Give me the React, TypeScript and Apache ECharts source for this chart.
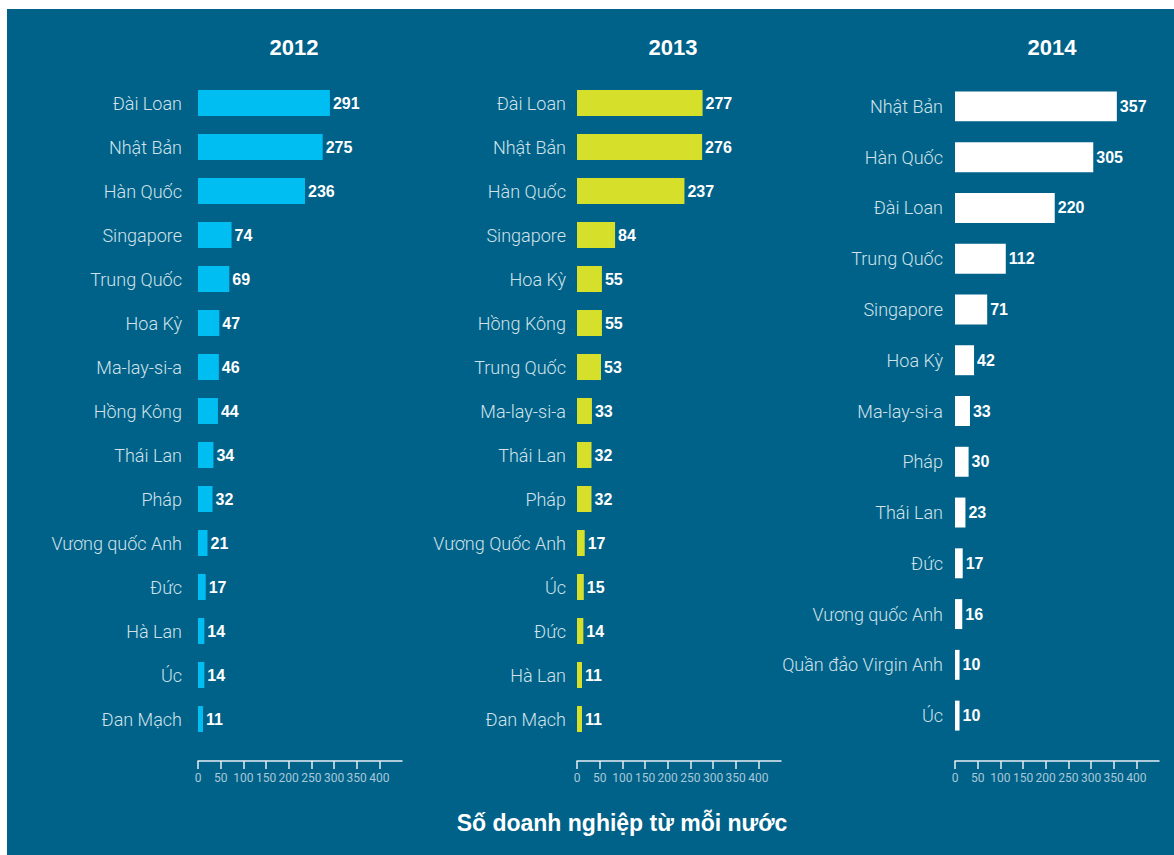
import React, { useEffect, useRef } from "react";
import * as echarts from "echarts";

const years = ["2012", "2013", "2014"];

const cats2012 = ["Đài Loan", "Nhật Bản", "Hàn Quốc", "Singapore", "Trung Quốc", "Hoa Kỳ", "Ma-lay-si-a", "Hồng Kông", "Thái Lan", "Pháp", "Vương quốc Anh", "Đức", "Hà Lan", "Úc", "Đan Mạch"];
const vals2012 = [291, 275, 236, 74, 69, 47, 46, 44, 34, 32, 21, 17, 14, 14, 11];

const cats2013 = ["Đài Loan", "Nhật Bản", "Hàn Quốc", "Singapore", "Hoa Kỳ", "Hồng Kông", "Trung Quốc", "Ma-lay-si-a", "Thái Lan", "Pháp", "Vương Quốc Anh", "Úc", "Đức", "Hà Lan", "Đan Mạch"];
const vals2013 = [277, 276, 237, 84, 55, 55, 53, 33, 32, 32, 17, 15, 14, 11, 11];

const cats2014 = ["Nhật Bản", "Hàn Quốc", "Đài Loan", "Trung Quốc", "Singapore", "Hoa Kỳ", "Ma-lay-si-a", "Pháp", "Thái Lan", "Đức", "Vương quốc Anh", "Quần đảo Virgin Anh", "Úc"];
const vals2014 = [357, 305, 220, 112, 71, 42, 33, 30, 23, 17, 16, 10, 10];

const tickValues = [0, 50, 100, 150, 200, 250, 300, 350, 400];
const axisTitle = "Số doanh nghiệp từ mỗi nước";

const barColors = ["#00BEF2", "#D6E02A", "#FFFFFF"];

export default function App() {
  const ref = useRef<HTMLDivElement>(null);
  useEffect(() => {
    if (!ref.current) return;
    const chart = echarts.init(ref.current, null, { renderer: "svg" });
    const cats = [cats2012, cats2013, cats2014];
    const vals = [vals2012, vals2013, vals2014];
    const lefts = [191, 570, 948];
    const labelMargins = [16, 11, 12];
    const titleX = [282, 661, 1040];
    const catFont = "Roboto, 'Liberation Sans', sans-serif";
    const option: any = {
      animation: false,
      backgroundColor: "#006289",
      title: [
        ...years.map((y, i) => ({
          text: y,
          left: titleX[i],
          top: 22,
          textAlign: "center",
          textStyle: { color: "#FFFFFF", fontSize: 22, fontWeight: "bold", fontFamily: "'Liberation Sans', Arial, sans-serif" },
        })),
        {
          text: axisTitle,
          left: 610,
          top: 797,
          textAlign: "center",
          textStyle: { color: "#FFFFFF", fontSize: 23, fontWeight: "bold", fontFamily: "'Liberation Sans', Arial, sans-serif" },
        },
      ],
      grid: lefts.map((l) => ({ left: l, width: 204, top: 72, height: 660, containLabel: false })),
      xAxis: lefts.map((_, i) => ({
        type: "value",
        gridIndex: i,
        min: 0,
        max: 450,
        interval: 50,
        offset: 20,
        position: "bottom",
        splitLine: { show: false },
        axisLine: { show: true, lineStyle: { color: "#E6EEF2", width: 1.5 } },
        axisTick: { show: true, length: 8, customValues: tickValues, lineStyle: { color: "#E6EEF2", width: 1.5 } },
        axisLabel: {
          customValues: tickValues,
          color: "#A9C8D8",
          fontSize: 12,
          margin: 11,
          fontFamily: catFont,
        },
      })),
      yAxis: lefts.map((_, i) => ({
        type: "category",
        gridIndex: i,
        inverse: true,
        data: cats[i],
        axisLine: { show: false },
        axisTick: { show: false },
        axisLabel: {
          color: "#D2E2EA",
          fontSize: 18,
          fontWeight: 300,
          margin: labelMargins[i],
          fontFamily: catFont,
        },
      })),
      series: vals.map((v, i) => ({
        type: "bar",
        xAxisIndex: i,
        yAxisIndex: i,
        data: v,
        barWidth: "59%",
        itemStyle: { color: barColors[i] },
        label: {
          show: true,
          position: "right",
          distance: 3,
          color: "#FFFFFF",
          fontSize: 16,
          fontWeight: "bold",
          fontFamily: "'Liberation Sans Narrow', 'Liberation Sans', Arial, sans-serif",
        },
      })),
    };
    chart.setOption(option);
    return () => chart.dispose();
  }, []);
  return (
    <div
      ref={ref}
      style={{ position: "absolute", left: 7, top: 9, width: 1167, height: 846 }}
    />
  );
}
